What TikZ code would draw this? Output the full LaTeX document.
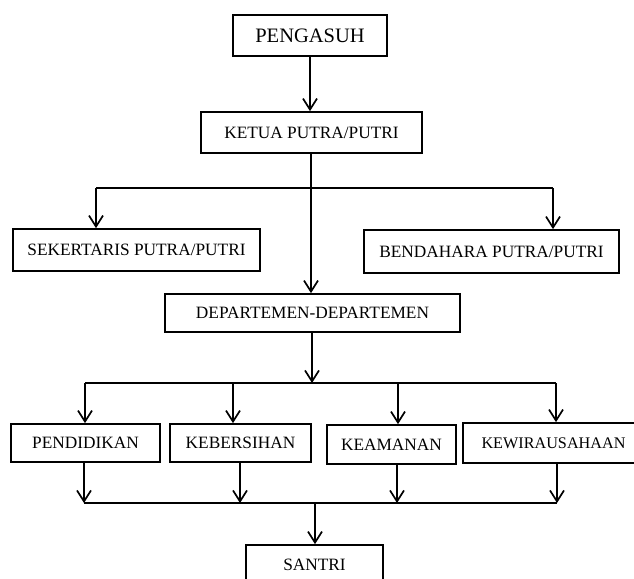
\documentclass[tikz,border=0pt]{standalone}
\usepackage{fontspec}
\setmainfont{Liberation Serif}
\usetikzlibrary{arrows.meta}
\tikzset{
  box/.style={draw=black, line width=1.7pt, rectangle, inner sep=0pt, font=\fontsize{17.3}{20}\selectfont, text=black},
  conn/.style={line width=1.7pt, draw=black},
  arr/.style={conn, -{Straight Barb[length=11pt,width=14pt,line width=1.7pt]}}
}
\begin{document}
\begin{tikzpicture}[x=1pt,y=-1pt]
\useasboundingbox (0,0) rectangle (634,578);
\fill[white] (0,0) rectangle (634,578);
\clip (0,0) rectangle (634,578);
% boxes
\node[box, minimum width=154pt, minimum height=41pt, font=\fontsize{20.5}{24}\selectfont] (peng) at (310,35.5) {PENGASUH};
\node[box, minimum width=221pt, minimum height=41pt] (ketua) at (311.5,132.5) {KETUA PUTRA/PUTRI};
\node[box, minimum width=247pt, minimum height=42pt] (sek) at (136.5,250) {SEKERTARIS PUTRA/PUTRI};
\node[box, minimum width=255pt, minimum height=43pt] (ben) at (491.5,251.5) {BENDAHARA PUTRA/PUTRI};
\node[box, minimum width=295pt, minimum height=38pt] (dept) at (312.5,313) {DEPARTEMEN-DEPARTEMEN};
\node[box, minimum width=149pt, minimum height=38pt] (pend) at (85.5,443) {PENDIDIKAN};
\node[box, minimum width=141pt, minimum height=38pt] (keb) at (240.5,443) {KEBERSIHAN};
\node[box, minimum width=129pt, minimum height=39pt] (keam) at (391.5,444.5) {KEAMANAN};
\node[box, minimum width=181pt, minimum height=40pt, font=\fontsize{16.2}{19}\selectfont] (kew) at (553.5,443) {KEWIRAUSAHAAN};
\node[box, minimum width=137pt, minimum height=40pt] (santri) at (314.5,565) {SANTRI};
% junction coordinates
\coordinate (kt) at (311,188);
\coordinate (b1l) at (96,188);
\coordinate (b1r) at (553,188);
\coordinate (dj) at (312,383);
\coordinate (b2l) at (85,383);
\coordinate (b2r) at (556,383);
\coordinate (b2b) at (233,383);
\coordinate (b2c) at (398,383);
\coordinate (b3l) at (84,503);
\coordinate (b3b) at (240,503);
\coordinate (b3c) at (397,503);
\coordinate (b3r) at (557,503);
\coordinate (b3s) at (315,503);
% connectors
\draw[arr] (peng.south) -- (peng.south |- ketua.north);
\draw[arr] (kt |- ketua.south) -- (kt |- dept.north);
\draw[conn] (b1l) -- (b1r);
\draw[arr] (b1l) -- (b1l |- sek.north);
\draw[arr] (b1r) -- (b1r |- ben.north);
\draw[arr] (dj |- dept.south) -- (dj);
\draw[conn] (b2l) -- (b2r);
\draw[arr] (b2l) -- (b2l |- pend.north);
\draw[arr] (b2b) -- (b2b |- keb.north);
\draw[arr] (b2c) -- (b2c |- keam.north);
\draw[arr] (b2r) -- (b2r |- kew.north);
\draw[arr] (b3l |- pend.south) -- (b3l);
\draw[arr] (b3b |- keb.south) -- (b3b);
\draw[arr] (b3c |- keam.south) -- (b3c);
\draw[arr] (b3r |- kew.south) -- (b3r);
\draw[conn] (b3l) -- (b3r);
\draw[arr] (b3s) -- (b3s |- santri.north);
\end{tikzpicture}
\end{document}
